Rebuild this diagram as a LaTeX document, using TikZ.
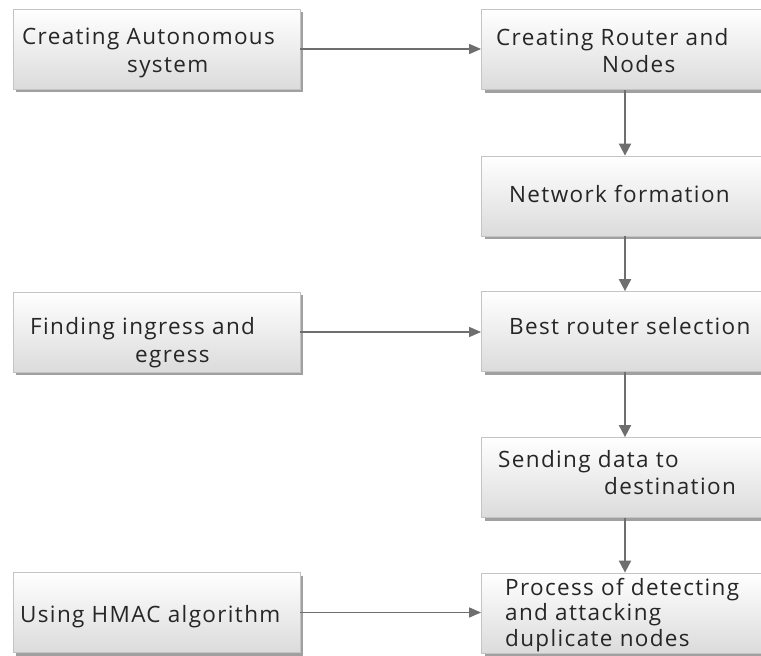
\documentclass[tikz,border=0pt]{standalone}
\usepackage{fontspec}
\setmainfont[LetterSpace=6]{Open Sans}
\usetikzlibrary{arrows.meta}
\definecolor{txt}{HTML}{262626}
\definecolor{brd}{HTML}{C4C4C4}
\definecolor{shd}{HTML}{A0A0A0}
\definecolor{arr}{HTML}{6E6E6E}
\tikzset{
  box/.style={rectangle, draw=brd, line width=0.8pt, top color=white, bottom color=black!14,
    minimum width=287pt, minimum height=80pt, inner sep=0pt,
    preaction={fill=shd, transform canvas={xshift=3pt, yshift=-3pt}}},
  lbl/.style={anchor=mid west, inner sep=0pt, text=txt, font=\fontsize{22.5}{26}\selectfont},
  conn/.style={draw=arr, line width=2pt, -{Triangle[length=12pt, width=12pt]}},
  hconn/.style={draw=arr, line width=1.5pt, -{Triangle[length=12pt, width=10pt]}}
}
\begin{document}
\begin{tikzpicture}[x=1pt, y=-1pt]
\useasboundingbox (0,0) rectangle (761,656);
\clip (0,0) rectangle (761,656);
% boxes
\node[box] (l1) at (156.5,49) {};
\node[box] (l2) at (156.5,332) {};
\node[box] (l3) at (156.5,612.5) {};
\node[box] (r1) at (625,49.5) {};
\node[box] (r2) at (625,196) {};
\node[box] (r3) at (625,331.5) {};
\node[box] (r4) at (625,477.5) {};
\node[box] (r5) at (625,613) {};
% labels
\node[lbl] (t1a) at (22,42) {Creating Autonomous};
\node[lbl] (t1b) at (127,70) {system};
\node[lbl] (t2a) at (30,332) {Finding ingress and};
\node[lbl] (t2b) at (135,360) {egress};
\node[lbl] (t3a) at (20,620) {Using HMAC algorithm};
\node[lbl] (u1a) at (496,43) {Creating Router and};
\node[lbl] (u1b) at (602,70) {Nodes};
\node[lbl] (u2a) at (509,200) {Network formation};
\node[lbl] (u3a) at (509,332) {Best router selection};
\node[lbl] (u4a) at (498,465) {Sending data to};
\node[lbl] (u4b) at (604,492) {destination};
\node[lbl] (u5a) at (505,593) {Process of detecting};
\node[lbl] (u5b) at (505,618) {and attacking};
\node[lbl] (u5c) at (505,644) {duplicate nodes};
% connectors
\draw[hconn] (l1.east) -- (l1.east -| r1.west);
\draw[hconn] (l2.east) -- (l2.east -| r3.west);
\draw[hconn] (l3.east) -- (l3.east -| r5.west);
\draw[conn] (r1.south) -- (r2.north);
\draw[conn] (r2.south) -- (r3.north);
\draw[conn] (r3.south) -- (r4.north);
\draw[conn] (r4.south) -- (r5.north);
\end{tikzpicture}
\end{document}
